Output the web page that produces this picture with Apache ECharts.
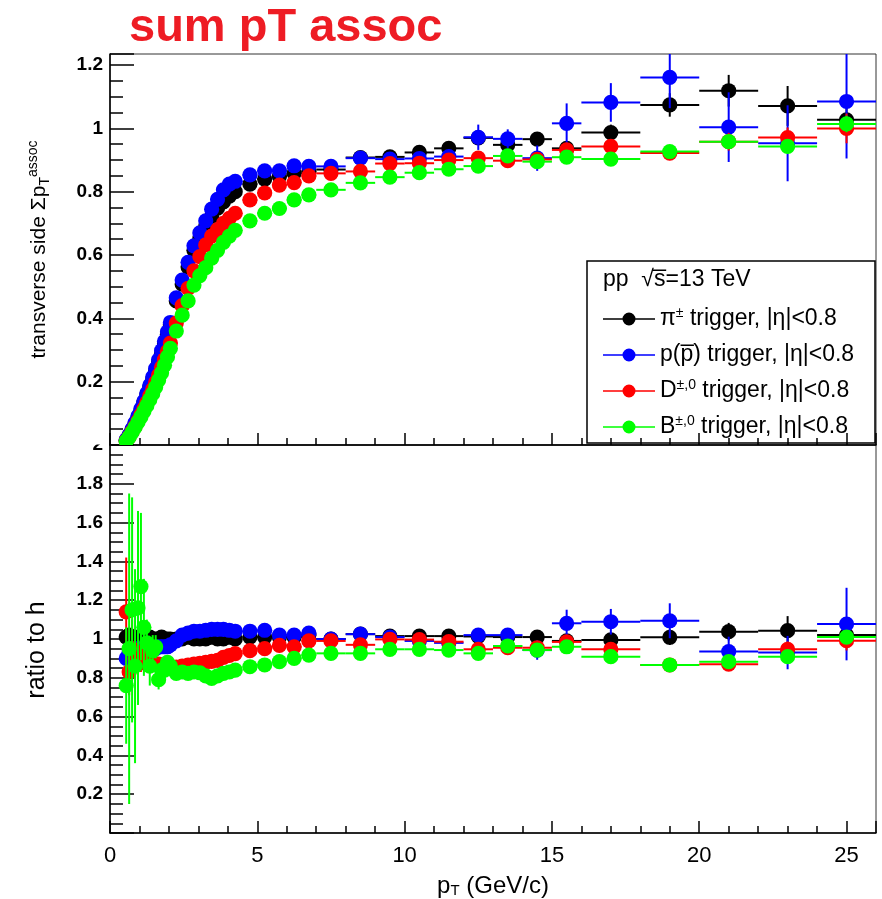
<!DOCTYPE html>
<html>
<head>
<meta charset="utf-8">
<script src="https://cdn.jsdelivr.net/npm/echarts@6/dist/echarts.min.js"></script>
<style>
  html, body { margin: 0; padding: 0; background: #fff; }
  #chart { width: 882px; height: 899px; }
</style>
</head>
<body>
<div id="chart"></div>
<script>
// Trigger pT bin centres and half widths (GeV/c)
const ptCenters = [0.55,0.65,0.75,0.85,0.95,1.05,1.15,1.25,1.35,1.45,1.55,1.65,1.75,1.85,1.95,2.05,
  2.25,2.45,2.65,2.85,3.05,3.25,3.45,3.65,3.85,4.05,4.25,
  4.75,5.25,5.75,6.25,6.75,
  7.5,8.5,
  9.5,10.5,11.5,12.5,13.5,14.5,15.5,
  17,19,21,23,25];
const ptHalfWidths = [0.05,0.05,0.05,0.05,0.05,0.05,0.05,0.05,0.05,0.05,0.05,0.05,0.05,0.05,0.05,0.05,
  0.1,0.1,0.1,0.1,0.1,0.1,0.1,0.1,0.1,0.1,0.1,
  0.25,0.25,0.25,0.25,0.25,
  0.5,0.5,
  0.5,0.5,0.5,0.5,0.5,0.5,0.5,
  1,1,1,1,1];

// Transverse-side sum pT of associated particles
const sumPtPion = [0.015,0.030,0.048,0.067,0.088,0.110,0.134,0.158,0.183,0.208,0.234,0.262,0.290,0.320,0.350,0.380,
  0.455,0.508,0.562,0.615,0.652,0.690,0.722,0.748,0.768,0.786,0.800,
  0.824,0.840,0.848,0.858,0.864,
  0.870,0.908,
  0.910,0.924,0.937,0.970,0.948,0.966,0.937,
  0.987,1.074,1.119,1.071,1.027];
const sumPtProton = [0.016,0.031,0.050,0.070,0.091,0.114,0.138,0.163,0.188,0.214,0.241,0.269,0.298,0.327,0.357,0.387,
  0.465,0.521,0.577,0.629,0.670,0.708,0.745,0.776,0.806,0.824,0.833,
  0.853,0.866,0.866,0.882,0.880,
  0.880,0.906,
  0.903,0.905,0.911,0.972,0.967,0.906,1.016,
  1.082,1.161,1.004,0.953,1.085];
const sumPtD = [0.013,0.026,0.042,0.058,0.076,0.095,0.114,0.134,0.155,0.176,0.198,0.221,0.245,0.270,0.296,0.322,
  0.385,0.440,0.495,0.550,0.595,0.632,0.660,0.680,0.700,0.716,0.732,
  0.774,0.796,0.821,0.829,0.850,
  0.858,0.864,
  0.889,0.890,0.900,0.906,0.898,0.902,0.932,
  0.943,0.922,0.958,0.971,1.000];
const sumPtB = [0.012,0.025,0.040,0.056,0.072,0.089,0.106,0.124,0.143,0.162,0.183,0.205,0.228,0.252,0.278,0.305,
  0.360,0.410,0.455,0.505,0.535,0.560,0.590,0.615,0.640,0.660,0.678,
  0.708,0.732,0.747,0.774,0.790,
  0.806,0.828,
  0.846,0.860,0.871,0.881,0.913,0.895,0.909,
  0.903,0.927,0.958,0.943,1.014];

const sumPtPionErr = [0.002,0.002,0.002,0.002,0.002,0.002,0.002,0.002,0.002,0.002,0.002,0.002,0.002,0.002,0.002,0.002,
  0.003,0.003,0.003,0.003,0.003,0.003,0.003,0.003,0.003,0.003,0.003,
  0.004,0.004,0.004,0.004,0.004,
  0.005,0.006,
  0.008,0.009,0.011,0.013,0.015,0.018,0.022,
  0.025,0.037,0.050,0.063,0.045];
const sumPtProtonErr = [0.004,0.004,0.004,0.004,0.004,0.004,0.004,0.004,0.004,0.004,0.004,0.004,0.004,0.004,0.004,0.004,
  0.005,0.005,0.005,0.005,0.005,0.005,0.005,0.005,0.005,0.005,0.005,
  0.007,0.007,0.007,0.007,0.007,
  0.010,0.012,
  0.015,0.018,0.022,0.040,0.030,0.040,0.063,
  0.061,0.097,0.110,0.120,0.180];
const sumPtDErr = [0.004,0.004,0.004,0.004,0.004,0.004,0.004,0.004,0.004,0.004,0.004,0.004,0.004,0.004,0.004,0.004,
  0.005,0.005,0.005,0.005,0.005,0.005,0.005,0.005,0.005,0.005,0.005,
  0.006,0.006,0.006,0.006,0.006,
  0.008,0.009,
  0.010,0.011,0.012,0.013,0.014,0.016,0.018,
  0.020,0.022,0.028,0.032,0.047];
const sumPtBErr = [0.004,0.004,0.004,0.004,0.004,0.004,0.004,0.004,0.004,0.004,0.004,0.004,0.004,0.004,0.004,0.004,
  0.005,0.005,0.005,0.005,0.005,0.005,0.005,0.005,0.005,0.005,0.005,
  0.006,0.006,0.006,0.006,0.006,
  0.007,0.007,
  0.008,0.009,0.010,0.011,0.012,0.013,0.014,
  0.015,0.016,0.020,0.022,0.026];

// Ratio to inclusive-hadron trigger
const ratioPion = [1.01,1.02,1.00,1.01,1.00,1.01,1.00,1.00,1.01,1.00,1.00,1.00,1.01,1.00,1.00,1.00,
  1.00,1.00,1.01,1.00,1.00,1.00,1.01,1.00,1.00,1.01,1.00,
  1.01,1.01,1.01,1.01,1.02,
  1.00,1.025,
  1.015,1.015,1.015,1.013,1.010,1.010,0.990,
  0.995,1.009,1.038,1.043,1.020];
const ratioProton = [0.90,0.93,0.94,0.95,0.95,0.94,0.95,0.94,0.95,0.95,0.95,0.96,0.96,0.96,0.96,0.97,
  0.99,1.02,1.03,1.04,1.04,1.045,1.05,1.05,1.05,1.045,1.04,
  1.04,1.045,1.02,1.02,1.03,
  1.00,1.025,
  1.01,0.99,0.98,1.02,1.02,0.943,1.081,
  1.089,1.094,0.935,0.930,1.077];
const ratioD = [1.14,0.83,0.95,0.90,0.93,0.88,0.90,0.87,0.88,0.88,0.87,0.87,0.86,0.86,0.86,0.855,
  0.855,0.86,0.865,0.87,0.875,0.88,0.885,0.89,0.905,0.915,0.925,
  0.94,0.95,0.967,0.96,0.99,
  0.99,0.97,
  0.998,0.997,0.986,0.947,0.955,0.955,0.985,
  0.947,0.866,0.870,0.947,0.991];
const ratioB = [0.76,0.95,1.15,0.86,1.16,1.27,1.06,0.98,0.86,0.94,0.96,0.79,0.84,0.84,0.88,0.86,
  0.823,0.83,0.823,0.83,0.826,0.81,0.797,0.81,0.823,0.83,0.84,
  0.857,0.866,0.883,0.90,0.917,
  0.926,0.926,
  0.947,0.947,0.943,0.926,0.964,0.943,0.960,
  0.909,0.866,0.883,0.909,1.010];

const ratioPionErr = [0.03,0.02,0.015,0.012,0.01,0.01,0.008,0.008,0.007,0.007,0.006,0.006,0.006,0.005,0.005,0.005,
  0.005,0.005,0.005,0.005,0.005,0.005,0.005,0.005,0.005,0.005,0.005,
  0.006,0.006,0.006,0.006,0.006,
  0.008,0.009,
  0.010,0.011,0.012,0.014,0.016,0.018,0.022,
  0.025,0.040,0.045,0.075,0.045];
const ratioProtonErr = [0.05,0.045,0.04,0.035,0.03,0.028,0.025,0.022,0.02,0.018,0.017,0.016,0.015,0.014,0.013,0.012,
  0.012,0.012,0.012,0.012,0.012,0.012,0.012,0.012,0.012,0.012,0.012,
  0.014,0.014,0.014,0.014,0.014,
  0.016,0.020,
  0.022,0.025,0.028,0.030,0.032,0.050,0.070,
  0.066,0.090,0.077,0.086,0.187];
const ratioDErr = [0.28,0.12,0.15,0.10,0.08,0.05,0.05,0.04,0.04,0.03,0.03,0.03,0.02,0.02,0.02,0.02,
  0.015,0.015,0.015,0.015,0.015,0.015,0.015,0.015,0.015,0.015,0.015,
  0.015,0.015,0.015,0.015,0.015,
  0.016,0.018,
  0.018,0.020,0.020,0.022,0.024,0.026,0.030,
  0.030,0.030,0.035,0.040,0.050];
const ratioBErr = [0.30,0.80,0.58,0.50,0.50,0.38,0.25,0.12,0.10,0.08,0.06,0.05,0.04,0.04,0.03,0.03,
  0.02,0.02,0.02,0.02,0.02,0.02,0.02,0.02,0.02,0.02,0.02,
  0.015,0.015,0.015,0.015,0.015,
  0.014,0.014,
  0.015,0.015,0.016,0.016,0.017,0.018,0.020,
  0.020,0.022,0.025,0.028,0.030];

const triggerNames = ['pi trigger', 'p trigger', 'D trigger', 'B trigger'];
const triggerLabels = {
  'pi trigger': 'π{s|±} trigger, |η|<0.8',
  'p trigger': 'p(p\u0305) trigger, |η|<0.8',
  'D trigger': 'D{s|±,0} trigger, |η|<0.8',
  'B trigger': 'B{s|±,0} trigger, |η|<0.8'
};
const triggerColors = ['#000000', '#0000ff', '#ff0000', '#00ff00'];

const FONT = "'Liberation Sans', Arial, Helvetica, sans-serif";

function points(values, errors) {
  return ptCenters.map((x, i) => [x, values[i], ptHalfWidths[i], errors[i]]);
}

// Marker with horizontal (bin width) and vertical (uncertainty) error bars
function errorBarRenderer(color) {
  return function (params, api) {
    const x = api.value(0), y = api.value(1), ex = api.value(2), ey = api.value(3);
    const c = api.coord([x, y]);
    const l = api.coord([x - ex, y]);
    const r = api.coord([x + ex, y]);
    const t = api.coord([x, y + ey]);
    const b = api.coord([x, y - ey]);
    const line = { stroke: color, lineWidth: 2 };
    return {
      type: 'group',
      children: [
        { type: 'line', shape: { x1: l[0], y1: c[1], x2: r[0], y2: c[1] }, style: line },
        { type: 'line', shape: { x1: c[0], y1: t[1], x2: c[0], y2: b[1] }, style: line },
        { type: 'circle', shape: { cx: c[0], cy: c[1], r: 7.6 }, style: { fill: color } }
      ]
    };
  };
}

function panelSeries(gridIdx, sets) {
  return sets.map((d, k) => ({
    type: 'custom',
    name: triggerNames[k],
    xAxisIndex: gridIdx,
    yAxisIndex: gridIdx,
    clip: true,
    itemStyle: { color: triggerColors[k] },
    dimensions: ['pt', 'val', 'dpt', 'dval'],
    encode: { x: 0, y: 1 },
    renderItem: errorBarRenderer(triggerColors[k]),
    data: d
  }));
}

const topSets = [
  points(sumPtPion, sumPtPionErr),
  points(sumPtProton, sumPtProtonErr),
  points(sumPtD, sumPtDErr),
  points(sumPtB, sumPtBErr)
];
const bottomSets = [
  points(ratioPion, ratioPionErr),
  points(ratioProton, ratioProtonErr),
  points(ratioD, ratioDErr),
  points(ratioB, ratioBErr)
];

function tickLabel(v) {
  if (Math.abs(v) < 1e-9) return '';
  const k = Math.round(v * 5);
  if (Math.abs(v * 5 - k) > 1e-6) return '';
  return String(+(k / 5).toFixed(1));
}

const lineBlack = { color: '#000', width: 1.5 };
const subStyle = { fontSize: 14, fontFamily: FONT, color: '#000', lineHeight: 12, verticalAlign: 'bottom' };
const supStyle = { fontSize: 14, fontFamily: FONT, color: '#000', lineHeight: 12, verticalAlign: 'top' };

function xAxisCfg(gridIndex, withLabels) {
  const cfg = {
    gridIndex: gridIndex,
    type: 'value',
    min: 0, max: 26, interval: 5,
    axisLine: { show: true, onZero: false, lineStyle: lineBlack },
    axisTick: { show: true, inside: true, length: 12, lineStyle: lineBlack },
    minorTick: { show: true, splitNumber: 5, length: 7, lineStyle: lineBlack },
    splitLine: { show: false },
    axisLabel: { show: false }
  };
  if (withLabels) {
    cfg.axisLabel = {
      show: true, fontSize: 22, fontFamily: FONT, color: '#000', margin: 12,
      formatter: v => (Math.abs(v % 5) < 1e-9 ? String(v) : '')
    };
    cfg.name = 'p{sub|T} (GeV/c)';
    cfg.nameLocation = 'middle';
    cfg.nameGap = 41;
    cfg.nameTextStyle = {
      fontSize: 24, fontFamily: FONT, color: '#000',
      rich: { sub: Object.assign({}, subStyle, { fontSize: 15 }) }
    };
  }
  return cfg;
}

function yAxisCfg(gridIndex, max, name, gap, size, padding) {
  return {
    gridIndex: gridIndex,
    type: 'value',
    min: 0, max: max, interval: 0.2,
    axisLine: { show: true, onZero: false, lineStyle: lineBlack },
    axisTick: { show: true, inside: true, length: 24, lineStyle: lineBlack },
    minorTick: { show: true, splitNumber: 4, length: 13, lineStyle: lineBlack },
    splitLine: { show: false },
    axisLabel: { show: true, fontSize: 19, fontWeight: 'bold', fontFamily: FONT, color: '#000', margin: 7, formatter: tickLabel },
    name: name,
    nameLocation: 'middle',
    nameGap: gap,
    nameTextStyle: {
      fontSize: size, fontFamily: FONT, color: '#000', lineHeight: 26,
      padding: padding,
      rich: { sub: subStyle, sup: supStyle }
    }
  };
}

const chart = echarts.init(document.getElementById('chart'), null, { renderer: 'canvas' });

chart.setOption({
  backgroundColor: '#ffffff',
  animation: false,
  title: {
    text: 'sum pT assoc',
    left: 124, top: 0,
    textStyle: { color: '#ee1c24', fontSize: 47, fontWeight: 'bold', fontFamily: FONT }
  },
  grid: [
    { left: 110, top: 54, width: 766, height: 391, show: true, borderColor: '#333', borderWidth: 1, backgroundColor: 'transparent' },
    { left: 110, top: 445, width: 766, height: 388, show: true, borderColor: '#333', borderWidth: 1, backgroundColor: 'transparent' }
  ],
  xAxis: [xAxisCfg(0, false), xAxisCfg(1, true)],
  yAxis: [
    yAxisCfg(0, 1.235, 'transverse side Σp{sub|T}{sup|assoc}', 58, 21, [0, 0, 0, 0]),
    yAxisCfg(1, 2, 'ratio to h', 60, 25, [0, 22, 0, 0])
  ],
  legend: {
    data: triggerNames,
    orient: 'vertical',
    left: 598, top: 301,
    itemWidth: 52, itemHeight: 13, itemGap: 10,
    icon: 'path://M0,7.2L52,7.2L52,8.8L0,8.8Z M32.5,8A6.5,6.5,0,1,1,19.5,8A6.5,6.5,0,1,1,32.5,8Z',
    selectedMode: false,
    formatter: name => triggerLabels[name],
    textStyle: {
      fontSize: 23, fontFamily: FONT, color: '#000', lineHeight: 26,
      rich: { s: { fontSize: 14, fontFamily: FONT, color: '#000', lineHeight: 10, verticalAlign: 'top' } }
    }
  },
  graphic: [
    {
      type: 'rect', z: 0,
      shape: { x: 587, y: 261, width: 288, height: 182 },
      style: { fill: '#fff', stroke: '#000', lineWidth: 1.5 }
    },
    {
      type: 'text', z: 5,
      x: 603, y: 280,
      style: { text: 'pp  \u221As\u0305=13 TeV', fontSize: 23, fontFamily: FONT, fill: '#000', verticalAlign: 'middle' }
    },
    {
      // keeps the top of the ratio panel's "2" label under the upper frame
      type: 'rect', z: 100,
      shape: { x: 70, y: 428, width: 38, height: 16.5 },
      style: { fill: '#fff' }
    }
  ],
  series: panelSeries(0, topSets).concat(panelSeries(1, bottomSets))
});
</script>
</body>
</html>
